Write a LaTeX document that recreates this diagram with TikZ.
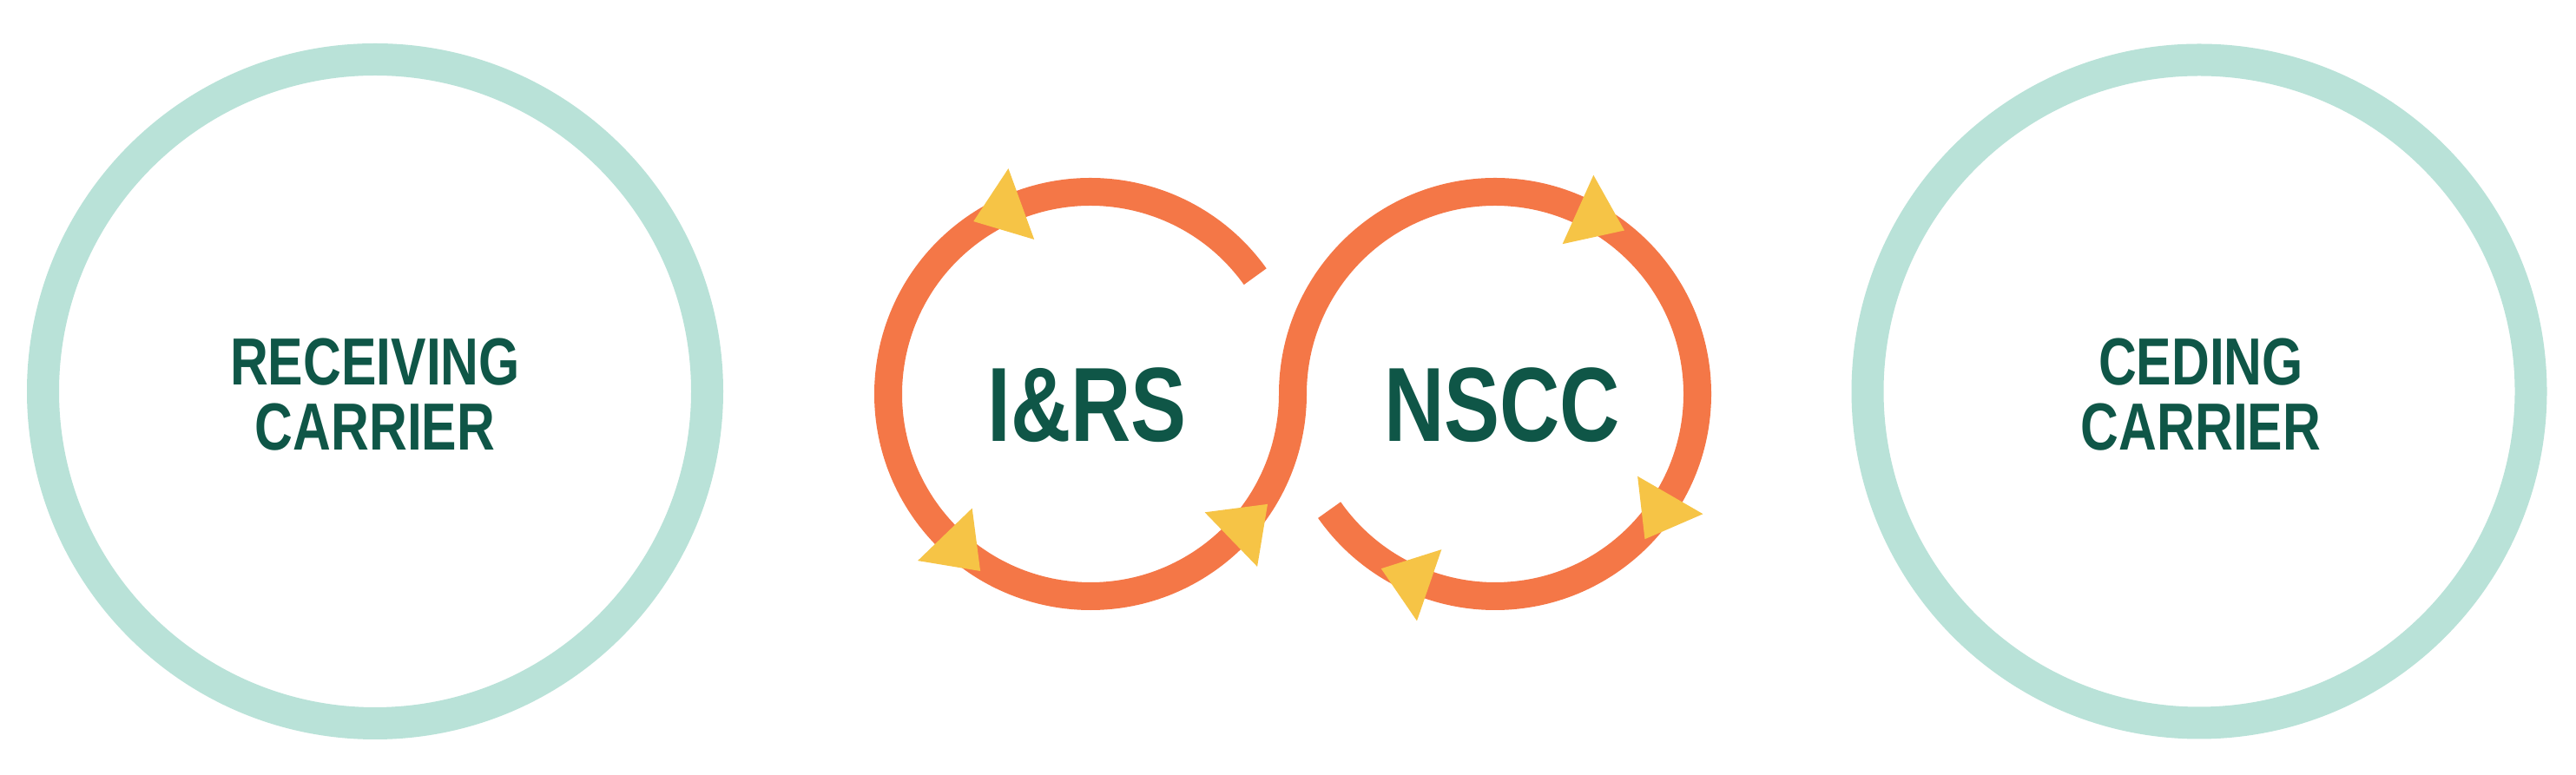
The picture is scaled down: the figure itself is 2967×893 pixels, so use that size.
\documentclass[tikz,border=0pt]{standalone}
\usepackage{fontspec}
\newfontfamily\lblfont{Liberation Sans}[FakeStretch=0.79]
\usetikzlibrary{calc}
\definecolor{ringteal}{HTML}{B9E2D8}
\definecolor{txtgreen}{HTML}{0F5647}
\definecolor{loopor}{HTML}{F47747}
\definecolor{arrowyel}{HTML}{F6C446}
\newcommand\ytri[3]{%
  \fill[tip] ($(#1)+(#2:189.5)$) -- ($(#1)+(#2:276.5)$) -- ($(#1)+(#2:233)+(#2#3:58.6)$) -- cycle;}
\begin{document}
\begin{tikzpicture}[x=1pt,y=1pt,
  ring/.style={draw=ringteal,line width=37pt},
  loopline/.style={draw=loopor,line width=32pt},
  tip/.style={fill=arrowyel},
  carrier/.style={text=txtgreen,font=\lblfont\bfseries\fontsize{76.8}{75}\selectfont,align=center,inner sep=0pt},
  hub/.style={text=txtgreen,font=\lblfont\bfseries\fontsize{121.5}{120}\selectfont,inner sep=0pt}]
\useasboundingbox (0,0) rectangle (2967,893);
\fill[white] (0,0) rectangle (2967,893);
\coordinate (rc) at (432,442);
\coordinate (cc) at (2533,442);
\coordinate (L) at (1256,439);
\coordinate (R) at (1722,439);
\draw[ring] (rc) circle[radius=382.5];
\draw[ring] (cc) circle[radius=382];
\node[carrier] (recv) at (432,438) {RECEIVING\\CARRIER};
\node[carrier] (ced) at (2535,438) {CEDING\\CARRIER};
\draw[loopline] ($(L)+(35.5:233)$) arc[start angle=35.5,end angle=360,radius=233]
  arc[start angle=180,end angle=-145,radius=233];
\ytri{L}{110}{+90}
\ytri{L}{224}{+90}
\ytri{L}{314}{+90}
\ytri{R}{65.8}{-90}
\ytri{R}{-30}{-90}
\ytri{R}{251}{-90}
\node[hub] (irs) at (1252,426.5) {I\&RS};
\node[hub] (nscc) at (1730,426.5) {NSCC};
\end{tikzpicture}
\end{document}
